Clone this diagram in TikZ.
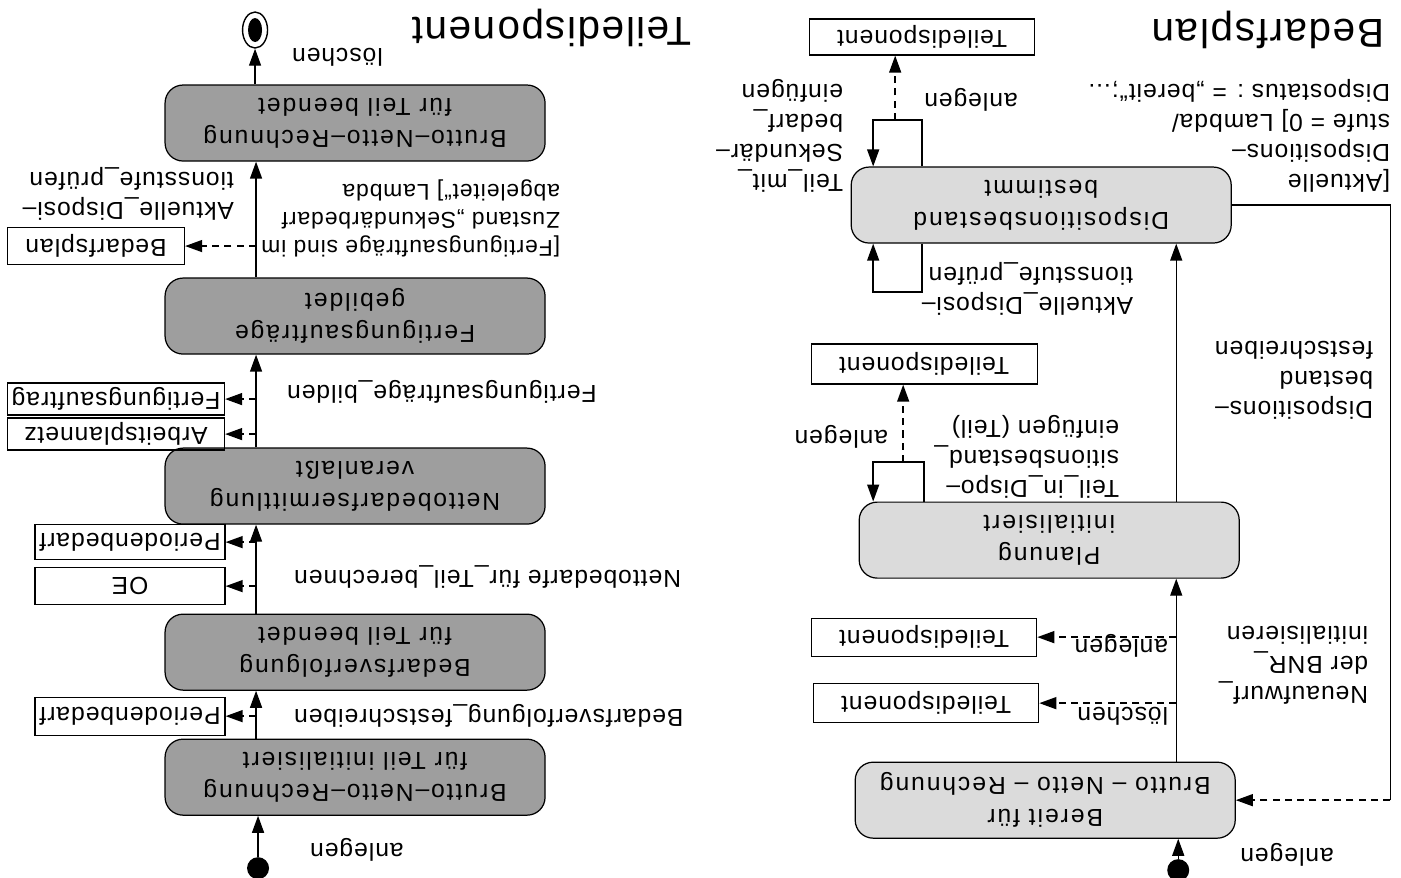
\documentclass[tikz,border=0pt]{standalone}
\usepackage{fontspec}
\setmainfont{Liberation Sans}[LetterSpace=4]
\newfontfamily\boxfont{Liberation Sans}[LetterSpace=8]
\usetikzlibrary{arrows.meta,shapes.geometric}
\colorlet{stategray}{black!38}
\colorlet{lightstategray}{black!14}

\begin{document}
\begin{tikzpicture}[
    darkstate/.style={draw, line width=0.7pt, rounded corners=0.36cm, fill=stategray,
      minimum width=7.6cm, minimum height=1.52cm, align=center,
      font=\boxfont\fontsize{14}{18}\selectfont},
    lightstate/.style={darkstate, fill=lightstategray},
    objbox/.style={draw, line width=0.7pt, minimum height=0.72cm, inner sep=2pt,
      font=\fontsize{14}{17}\selectfont},
    lbl/.style={font=\fontsize{14}{17}\selectfont, inner sep=1pt, align=left},
    arr/.style={-{Triangle[length=0.34cm,width=0.24cm]}, line width=0.8pt},
    dasharr/.style={arr, dash pattern=on 4pt off 3pt},
    initst/.style={circle, fill, minimum size=0.44cm, inner sep=0pt},
    lanetitle/.style={font=\fontsize{23}{28}\selectfont}]

  \useasboundingbox (0,0) rectangle (28.02,-17.54);

  % the sheet lies upside down: positions are pixels of the page
  \begin{scope}[rotate=180, transform shape, x=-0.02cm, y=0.02cm]

    % Bedarfsplan
    \node[lanetitle] (bptitle) at (1268,30) {Bedarfsplan};
    \node[initst] (bpstart) at (1178,870) {};
    \node[lightstate] (bpbereit) at (1045,800) {Bereit für\\Brutto – Netto – Rechnung};
    \node[lightstate] (bpplanung) at (1049,540) {Planung\\initialisiert};
    \node[lightstate] (bpdisp) at (1041,205) {Dispositionsbestand\\bestimmt};

    \node[objbox, minimum width=4.5cm] (bptd1) at (922,37) {Teiledisponent};
    \node[objbox, minimum width=4.52cm, minimum height=0.8cm] (bptd2) at (924,364) {Teiledisponent};
    \node[objbox, minimum width=4.5cm, minimum height=0.76cm] (bptd3) at (924,637) {Teiledisponent};
    \node[objbox, minimum width=4.5cm, minimum height=0.78cm] (bptd4) at (926,703) {Teiledisponent};

    \coordinate (bplane) at (1176,0);
    \draw[arr] (bpstart) -- (bpbereit.north -| bpstart);
    \draw[arr] (bpbereit.south -| bplane) -- (bpplanung.north -| bplane);
    \draw[arr] (bpplanung.south -| bplane) -- (bpdisp.north -| bplane);
    \draw[dasharr] (bptd3.west -| bplane) -- (bptd3.west);
    \draw[dasharr] (bptd4.west -| bplane) -- (bptd4.west);

    \coordinate (gloopR) at (924,462);
    \coordinate (gloopL) at (873,462);
    \coordinate (gloopM) at (903,462);
    \draw[arr] (bpplanung.south -| gloopR) -- (gloopR) -- (gloopL) -- (bpplanung.south -| gloopL);
    \draw[dasharr] (gloopM) -- (bptd2.north -| gloopM);

    \coordinate (floopR) at (922,120);
    \coordinate (floopL) at (873,120);
    \coordinate (floopM) at (895,120);
    \draw[arr] (bpdisp.south -| floopR) -- (floopR) -- (floopL) -- (bpdisp.south -| floopL);
    \draw[dasharr] (floopM) -- (bptd1.north -| floopM);

    \coordinate (fbloopR) at (922,292);
    \coordinate (fbloopL) at (873,292);
    \draw[arr] (bpdisp.north -| fbloopR) -- (fbloopR) -- (fbloopL) -- (bpdisp.north -| fbloopL);

    \coordinate (bpcorner) at (1390,800);
    \draw[line width=0.8pt] (bpdisp.west) -| (bpcorner);
    \draw[dasharr] (bpcorner) -- (bpbereit.west);

    \node[lbl, anchor=east] (bpl1) at (1238,855) {anlegen};
    \node[lbl, anchor=west] (bpl2) at (1170,646) {anlegen};
    \node[lbl, anchor=west] (bpl3) at (1170,716) {löschen};
    \node[lbl, anchor=west] (bpl4) at (1370,665) {Neuaufwurf\_\\der BNR\_\\initialisieren};
    \node[lbl, anchor=west] (bpl5) at (1121,457) {Teil\_in\_Dispo–\\sitionsbestand\_\\einfügen (Teil)};
    \node[lbl, anchor=west] (bpl6) at (890,437) {anlegen};
    \node[lbl, anchor=west] (bpl7) at (1375,380) {Dispositions–\\bestand\\festschreiben};
    \node[lbl, anchor=west] (bpl8) at (1135,289) {Aktuelle\_Disposi–\\tionsstufe\_prüfen};
    \node[lbl, anchor=west] (bpl9) at (845,136) {Teil\_mit\_\\Sekundär–\\bedarf\_\\einfügen};
    \node[lbl, anchor=east] (bpl10) at (922,100) {anlegen};
    \node[lbl, anchor=west] (bpl11) at (1392,136) {[Aktuelle\\Dispositions–\\stufe = 0] Lambda/\\Dispostatus : = „bereit“;...};

    % Teiledisponent
    \node[lanetitle] (tdtitle) at (552,28) {Teiledisponent};
    \node[initst] (tdstart) at (258,868) {};
    \node[darkstate] (bnrinit) at (355,777) {Brutto–Netto–Rechnung\\für Teil initialisiert};
    \node[darkstate] (bvend) at (355,652) {Bedarfsverfolgung\\für Teil beendet};
    \node[darkstate] (nbe) at (355,486) {Nettobedarfsermittlung\\veranlaßt};
    \node[darkstate] (fagebildet) at (355,316) {Fertigungsaufträge\\gebildet};
    \node[darkstate] (bnrend) at (355,123) {Brutto–Netto–Rechnung\\für Teil beendet};
    \node[draw, line width=0.8pt, ellipse, minimum width=0.5cm, minimum height=0.72cm, inner sep=0pt] (tdend) at (255,30) {};
    \node[fill, ellipse, minimum width=0.28cm, minimum height=0.48cm, inner sep=0pt] (tdenddot) at (tdend) {};

    \node[objbox, minimum width=3.54cm, minimum height=0.74cm] (tdbp) at (96,246) {Bedarfsplan};
    \node[objbox, minimum width=4.34cm, minimum height=0.64cm] (tdfa) at (116,399) {Fertigungsauftrag};
    \node[objbox, minimum width=4.34cm, minimum height=0.64cm] (tdapn) at (116,434) {Arbeitsplannetz};
    \node[objbox, minimum width=3.8cm, minimum height=0.7cm] (tdpb1) at (130,542) {Periodenbedarf};
    \node[objbox, minimum width=3.8cm, minimum height=0.74cm] (tdoe) at (130,586) {OE};
    \node[objbox, minimum width=3.8cm, minimum height=0.76cm] (tdpb2) at (130,716) {Periodenbedarf};

    \coordinate (tdlane) at (256,0);
    \draw[arr] (tdstart) -- (bnrinit.north -| tdstart);
    \draw[arr] (bnrinit.south -| tdlane) -- (bvend.north -| tdlane);
    \draw[arr] (bvend.south -| tdlane) -- (nbe.north -| tdlane);
    \draw[arr] (nbe.south -| tdlane) -- (fagebildet.north -| tdlane);
    \draw[arr] (fagebildet.south -| tdlane) -- (bnrend.north -| tdlane);
    \draw[arr] (bnrend.south -| tdend) -- (tdend);

    \draw[dasharr] (tdpb2.west -| tdlane) -- (tdpb2.west);
    \draw[dasharr] (tdoe.west -| tdlane) -- (tdoe.west);
    \draw[dasharr] (tdpb1.west -| tdlane) -- (tdpb1.west);
    \draw[dasharr] (tdapn.west -| tdlane) -- (tdapn.west);
    \draw[dasharr] (tdfa.west -| tdlane) -- (tdfa.west);
    \draw[dasharr] (tdbp.west -| tdlane) -- (tdbp.west);

    \node[lbl, anchor=east] (tdl1) at (308,850) {anlegen};
    \node[lbl, anchor=east] (tdl2) at (292,716) {Bedarfsverfolgung\_festschreiben};
    \node[lbl, anchor=east] (tdl3) at (292,577) {Nettobedarfe für\_Teil\_berechnen};
    \node[lbl, anchor=east] (tdl4) at (285,392) {Fertigungsaufträge\_bilden};
    \node[lbl, anchor=west, font=\fontsize{13}{16}\selectfont] (tdl5) at (562,218) {[Fertigungsaufträge sind im\\Zustand „Sekundärbedarf\\abgeleitet“] Lambda};
    \node[lbl, anchor=west] (tdl6) at (236,194) {Aktuelle\_Disposi–\\tionsstufe\_prüfen};
    \node[lbl, anchor=east] (tdl7) at (290,57) {löschen};

  \end{scope}
\end{tikzpicture}
\end{document}
